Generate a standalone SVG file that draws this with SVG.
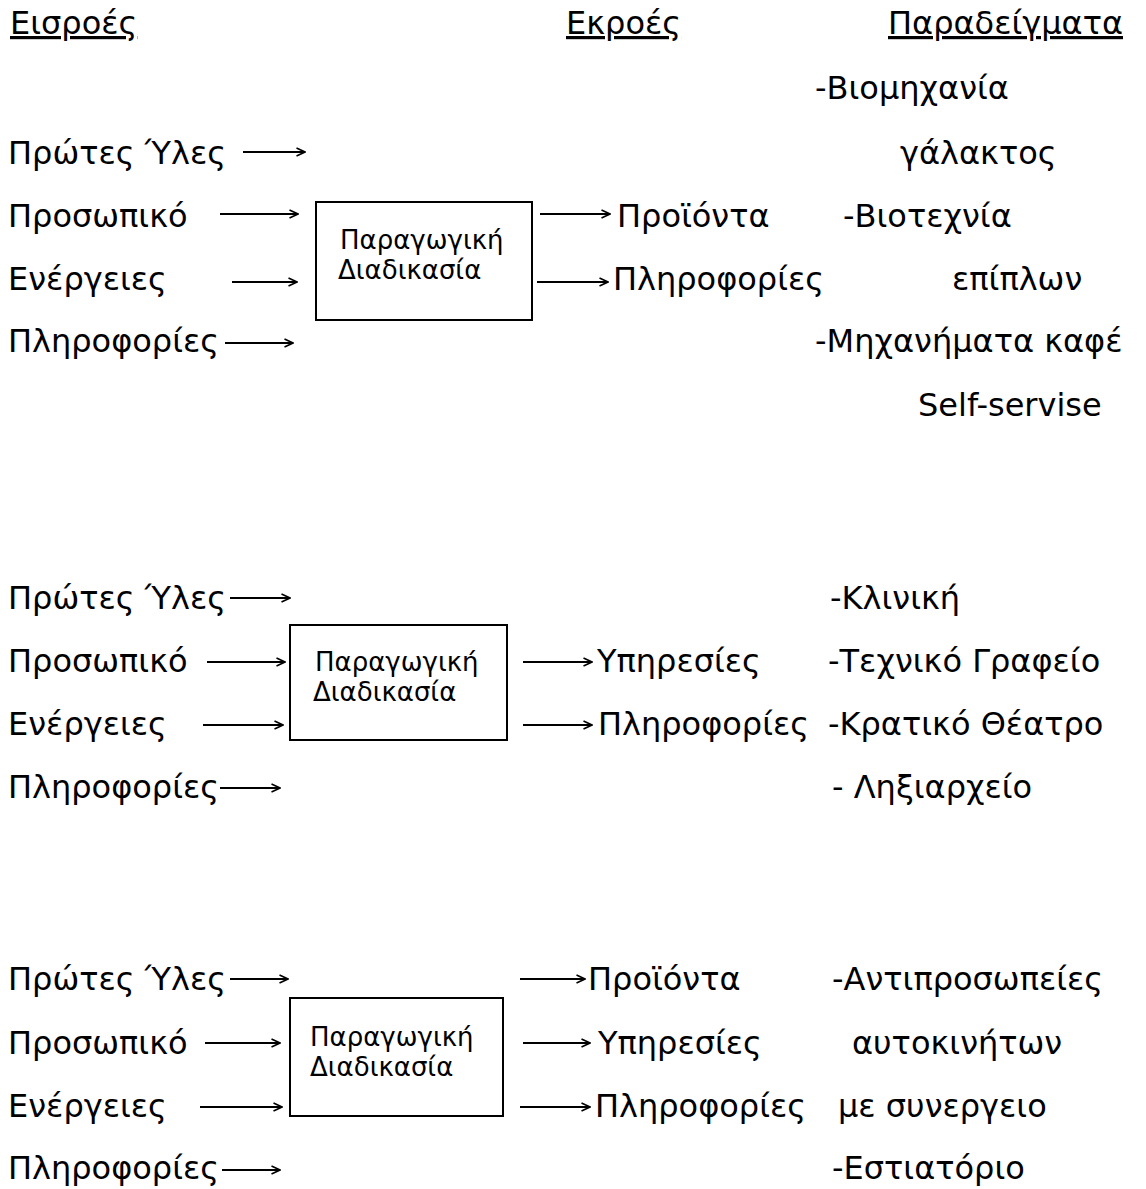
<svg xmlns="http://www.w3.org/2000/svg" width="1146" height="1189" viewBox="0 0 1146 1189">
<defs>
<marker id="ah" viewBox="0 0 10 10" refX="9.5" refY="5" markerWidth="10" markerHeight="10" markerUnits="userSpaceOnUse" orient="auto">
<polyline points="1,1 9.5,5 1,9" fill="none" stroke="#000" stroke-width="1.6"/>
</marker>
<style>
text{font-family:"DejaVu Sans","Noto Sans",sans-serif;font-size:32px;fill:#000}
.bx{font-size:26px}
.h{text-decoration:underline}
.box{fill:#fff;stroke:#000;stroke-width:2}
.c line{stroke:#000;stroke-width:1.8;marker-end:url(#ah)}
</style>
</defs>
<rect width="1146" height="1189" fill="#fff"/>
<g id="headers">
<text x="10" y="34" class="h">Εισροές</text>
<text x="566" y="34" class="h">Εκροές</text>
<text x="888" y="34" class="h">Παραδείγματα</text>
</g>
<g id="sec1">
<g id="s1-in1"><text x="8" y="164">Πρώτες Ύλες</text></g>
<g id="s1-in2"><text x="8" y="227">Προσωπικό</text></g>
<g id="s1-in3"><text x="8" y="290">Ενέργειες</text></g>
<g id="s1-in4"><text x="8" y="352">Πληροφορίες</text></g>
<g id="s1-box"><rect class="box" x="316" y="202" width="216" height="118"/><text class="bx" x="340" y="249">Παραγωγική</text><text class="bx" x="338" y="279">Διαδικασία</text></g>
<g id="s1-out1"><text x="617" y="227">Προϊόντα</text></g>
<g id="s1-out2"><text x="613" y="290">Πληροφορίες</text></g>
<g id="s1-ex"><text x="815" y="99">-Βιομηχανία</text><text x="900" y="164">γάλακτος</text><text x="843" y="227">-Βιοτεχνία</text><text x="952" y="290">επίπλων</text><text x="815" y="352">-Μηχανήματα καφέ</text><text x="918" y="416">Self-servise</text></g>
</g>
<g id="sec2">
<g id="s2-in1"><text x="8" y="609">Πρώτες Ύλες</text></g>
<g id="s2-in2"><text x="8" y="672">Προσωπικό</text></g>
<g id="s2-in3"><text x="8" y="735">Ενέργειες</text></g>
<g id="s2-in4"><text x="8" y="798">Πληροφορίες</text></g>
<g id="s2-box"><rect class="box" x="290" y="625" width="217" height="115"/><text class="bx" x="315" y="671">Παραγωγική</text><text class="bx" x="313" y="701">Διαδικασία</text></g>
<g id="s2-out1"><text x="597" y="672">Υπηρεσίες</text></g>
<g id="s2-out2"><text x="598" y="735">Πληροφορίες</text></g>
<g id="s2-ex"><text x="830" y="609">-Κλινική</text><text x="828" y="672">-Τεχνικό Γραφείο</text><text x="828" y="735">-Κρατικό Θέατρο</text><text x="832" y="798">- Ληξιαρχείο</text></g>
</g>
<g id="sec3">
<g id="s3-in1"><text x="8" y="990">Πρώτες Ύλες</text></g>
<g id="s3-in2"><text x="8" y="1054">Προσωπικό</text></g>
<g id="s3-in3"><text x="8" y="1117">Ενέργειες</text></g>
<g id="s3-in4"><text x="8" y="1179">Πληροφορίες</text></g>
<g id="s3-box"><rect class="box" x="290" y="998" width="213" height="118"/><text class="bx" x="310" y="1046">Παραγωγική</text><text class="bx" x="310" y="1076">Διαδικασία</text></g>
<g id="s3-out1"><text x="588" y="990">Προϊόντα</text></g>
<g id="s3-out2"><text x="598" y="1054">Υπηρεσίες</text></g>
<g id="s3-out3"><text x="595" y="1117">Πληροφορίες</text></g>
<g id="s3-ex"><text x="832" y="990">-Αντιπροσωπείες</text><text x="852" y="1054">αυτοκινήτων</text><text x="838" y="1117">με συνεργειο</text><text x="832" y="1179">-Εστιατόριο</text></g>
</g>
<g id="connectors" class="c">
<line x1="243" y1="152" x2="305" y2="152"/>
<line x1="220" y1="214" x2="298" y2="214"/>
<line x1="232" y1="282" x2="297" y2="282"/>
<line x1="225" y1="343" x2="293" y2="343"/>
<line x1="540" y1="214" x2="610" y2="214"/>
<line x1="537" y1="282" x2="608" y2="282"/>
<line x1="230" y1="598" x2="290" y2="598"/>
<line x1="207" y1="662" x2="285" y2="662"/>
<line x1="203" y1="725" x2="283" y2="725"/>
<line x1="220" y1="788" x2="280" y2="788"/>
<line x1="523" y1="662" x2="592" y2="662"/>
<line x1="523" y1="725" x2="592" y2="725"/>
<line x1="230" y1="979" x2="288" y2="979"/>
<line x1="205" y1="1043" x2="280" y2="1043"/>
<line x1="200" y1="1107" x2="282" y2="1107"/>
<line x1="222" y1="1170" x2="280" y2="1170"/>
<line x1="520" y1="979" x2="585" y2="979"/>
<line x1="523" y1="1043" x2="590" y2="1043"/>
<line x1="520" y1="1107" x2="590" y2="1107"/>
</g>
</svg>
